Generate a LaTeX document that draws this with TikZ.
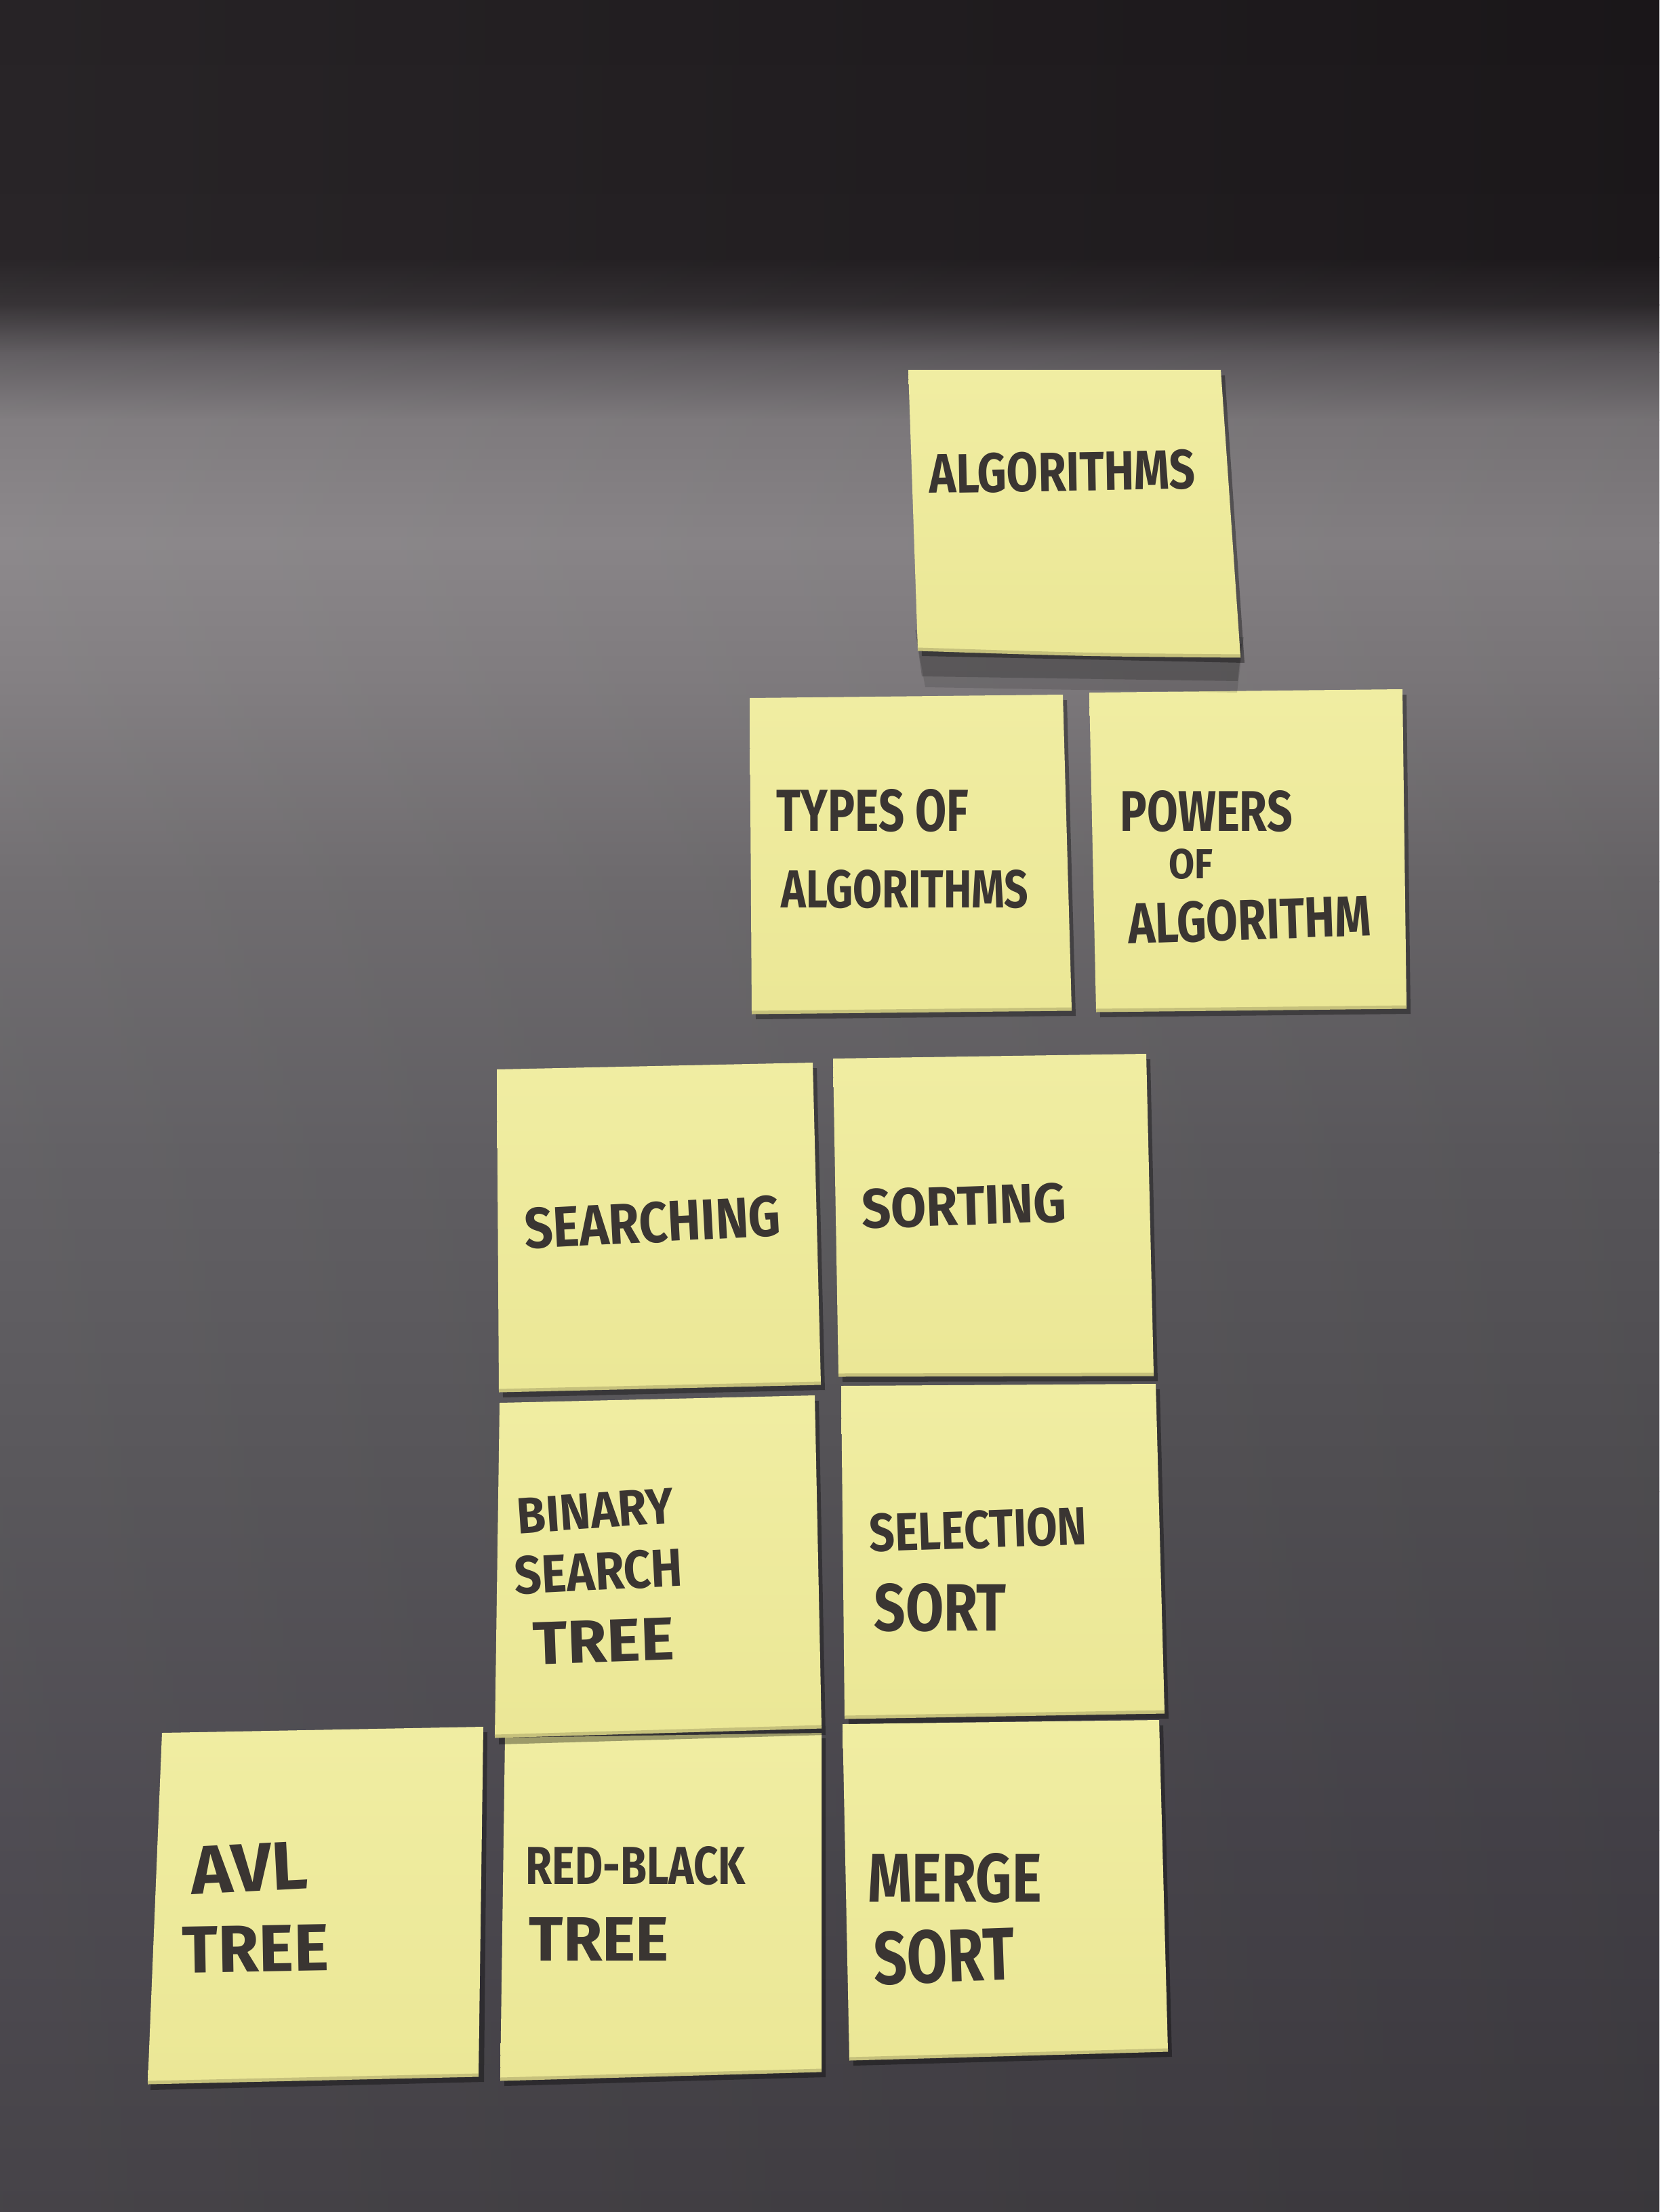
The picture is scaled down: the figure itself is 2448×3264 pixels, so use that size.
\documentclass[tikz,border=0pt]{standalone}
\usepackage{fontspec}
\setmainfont{Fira Sans}[FakeStretch=0.8]
\usepackage{graphicx}
\definecolor{bgA}{HTML}{1C181B}
\definecolor{bgB}{HTML}{1E1A1D}
\definecolor{bgC}{HTML}{2E2A2D}
\definecolor{bgD}{HTML}{5A565A}
\definecolor{bgE}{HTML}{7C787B}
\definecolor{bgF}{HTML}{878386}
\definecolor{bgG}{HTML}{7E7A7D}
\definecolor{bgH}{HTML}{6B686B}
\definecolor{bgI}{HTML}{5C5A5E}
\definecolor{bgJ}{HTML}{514F53}
\definecolor{bgK}{HTML}{46434A}
\definecolor{bgL}{HTML}{3D3A3F}
\definecolor{noteTop}{HTML}{F0EDA2}
\definecolor{noteBot}{HTML}{EBE796}
\definecolor{noteEdge}{HTML}{C6C17C}
\definecolor{ink}{HTML}{3A3532}
\newcommand{\mkhand}[3]{\resizebox{#1cm}{#2cm}{\bfseries #3}}
\tikzset{
  notefill/.style={top color=noteTop, bottom color=noteBot, draw=none},
  noteshadow/.style={fill=black, opacity=0.35},
  noteedge/.style={draw=noteEdge, line width=0.05cm},
  handtext/.style={anchor=south west, inner sep=0pt, text=ink}
}
\begin{document}
\begin{tikzpicture}[x=0.01cm, y=0.01cm]
\useasboundingbox (0,-3264) rectangle (2448,0);
% ---------- background wall ----------
\shade[top color=bgA, bottom color=bgB] (0,0) rectangle (2448,-381);
\shade[top color=bgB, bottom color=bgC] (0,-380) rectangle (2448,-451);
\shade[top color=bgC, bottom color=bgD] (0,-450) rectangle (2448,-521);
\shade[top color=bgD, bottom color=bgE] (0,-520) rectangle (2448,-621);
\shade[top color=bgE, bottom color=bgF] (0,-620) rectangle (2448,-801);
\shade[top color=bgF, bottom color=bgG] (0,-800) rectangle (2448,-1001);
\shade[top color=bgG, bottom color=bgH] (0,-1000) rectangle (2448,-1301);
\shade[top color=bgH, bottom color=bgI] (0,-1300) rectangle (2448,-1701);
\shade[top color=bgI, bottom color=bgJ] (0,-1700) rectangle (2448,-2201);
\shade[top color=bgJ, bottom color=bgK] (0,-2200) rectangle (2448,-2701);
\shade[top color=bgK, bottom color=bgL] (0,-2700) rectangle (2448,-3264);
\shade[left color=white, right color=black, opacity=0.05] (0,0) rectangle (2448,-3264);

% ---------- bottom row ----------
\fill[noteshadow] (245,-2565) -- (719,-2556) -- (714,-3072) -- (222,-3084) -- cycle;
\shade[notefill] (239,-2557) -- (713,-2548) -- (706,-3062) -- (218,-3073) -- cycle;
\draw[noteedge] (706,-3062) -- (218,-3073);

\fill[noteshadow] (751,-2572) -- (1218,-2565) -- (1218,-3065) -- (744,-3078) -- cycle;
\shade[notefill] (745,-2564) -- (1212,-2557) -- (1212,-3055) -- (738,-3068) -- cycle;
\draw[noteedge] (1212,-3055) -- (738,-3068);

\fill[noteshadow] (1249,-2552) -- (1716,-2546) -- (1729,-3035) -- (1259,-3048) -- cycle;
\shade[notefill] (1243,-2544) -- (1710,-2538) -- (1723,-3025) -- (1253,-3038) -- cycle;
\draw[noteedge] (1723,-3025) -- (1253,-3038);

% ---------- middle row ----------
\fill[noteshadow] (743,-2078) -- (1208,-2067) -- (1218,-2560) -- (736,-2574) -- cycle;
\shade[notefill] (737,-2070) -- (1202,-2059) -- (1212,-2548) -- (730,-2562) -- cycle;
\draw[noteedge] (1212,-2548) -- (730,-2562);

\fill[noteshadow] (1247,-2053) -- (1711,-2050) -- (1724,-2536) -- (1252,-2544) -- cycle;
\shade[notefill] (1241,-2045) -- (1705,-2042) -- (1718,-2526) -- (1246,-2534) -- cycle;
\draw[noteedge] (1718,-2526) -- (1246,-2534);

% ---------- upper row ----------
\fill[noteshadow] (739,-1586) -- (1205,-1576) -- (1217,-2051) -- (742,-2062) -- cycle;
\shade[notefill] (733,-1578) -- (1199,-1568) -- (1211,-2041) -- (736,-2052) -- cycle;
\draw[noteedge] (1211,-2041) -- (736,-2052);

\fill[noteshadow] (1235,-1570) -- (1697,-1563) -- (1708,-2038) -- (1243,-2039) -- cycle;
\shade[notefill] (1229,-1562) -- (1691,-1555) -- (1702,-2028) -- (1237,-2029) -- cycle;
\draw[noteedge] (1702,-2028) -- (1237,-2029);

% ---------- second row ----------
\fill[noteshadow] (1112,-1038) -- (1574,-1033) -- (1587,-1499) -- (1115,-1504) -- cycle;
\shade[notefill] (1106,-1030) -- (1568,-1025) -- (1581,-1489) -- (1109,-1494) -- cycle;
\draw[noteedge] (1581,-1489) -- (1109,-1494);

\fill[noteshadow] (1613,-1030) -- (2075,-1025) -- (2081,-1496) -- (1623,-1501) -- cycle;
\shade[notefill] (1607,-1022) -- (2069,-1017) -- (2075,-1486) -- (1617,-1491) -- cycle;
\draw[noteedge] (2075,-1486) -- (1617,-1491);

% ---------- top note ----------
\fill[black, opacity=0.12] (1350,-930) -- (1835,-940) -- (1825,-1022) -- (1365,-1014) -- cycle;
\fill[black, opacity=0.18] (1352,-940) -- (1832,-950) -- (1826,-1005) -- (1360,-998) -- cycle;
\fill[noteshadow] (1346,-554) -- (1807,-554) -- (1836,-978) -- (1360,-968) -- cycle;
\shade[notefill] (1340,-546) -- (1801,-546) -- (1830,-968) -- (1354,-958) -- cycle;
\draw[noteedge] (1830,-968) .. controls (1600,-966) .. (1354,-958);

% ---------- handwriting ----------
\node[handtext, rotate=1] (t1) at (1371,-730) {\mkhand{3.92}{0.58}{ALGORITHMS}};

\node[handtext] (t2a) at (1145,-1229) {\mkhand{2.83}{0.62}{TYPES OF}};
\node[handtext] (t2b) at (1152,-1342) {\mkhand{3.64}{0.56}{ALGORITHMS}};

\node[handtext] (t3a) at (1652,-1229) {\mkhand{2.54}{0.60}{POWERS}};
\node[handtext] (t3b) at (1724,-1298) {\mkhand{0.65}{0.44}{OF}};
\node[handtext, rotate=2] (t3c) at (1665,-1395) {\mkhand{3.58}{0.60}{ALGORITHM}};

\node[handtext, rotate=3] (t4) at (775,-1845) {\mkhand{3.78}{0.60}{SEARCHING}};
\node[handtext, rotate=2] (t5) at (1272,-1815) {\mkhand{3.02}{0.58}{SORTING}};

\node[handtext, rotate=4] (t6a) at (764,-2264) {\mkhand{2.31}{0.52}{BINARY}};
\node[handtext, rotate=3] (t6b) at (760,-2355) {\mkhand{2.48}{0.56}{SEARCH}};
\node[handtext, rotate=2] (t6c) at (787,-2457) {\mkhand{2.08}{0.62}{TREE}};

\node[handtext, rotate=2] (t7a) at (1283,-2292) {\mkhand{3.21}{0.56}{SELECTION}};
\node[handtext] (t7b) at (1289,-2409) {\mkhand{1.95}{0.70}{SORT}};

\node[handtext, rotate=3] (t8a) at (283,-2796) {\mkhand{1.72}{0.70}{AVL}};
\node[handtext, rotate=1] (t8b) at (269,-2912) {\mkhand{2.16}{0.68}{TREE}};

\node[handtext] (t9a) at (775,-2783) {\mkhand{3.24}{0.56}{RED-BLACK}};
\node[handtext] (t9b) at (780,-2894) {\mkhand{2.06}{0.64}{TREE}};

\node[handtext] (t10a) at (1280,-2809) {\mkhand{2.56}{0.72}{MERGE}};
\node[handtext, rotate=2] (t10b) at (1290,-2931) {\mkhand{2.07}{0.78}{SORT}};
\end{tikzpicture}
\end{document}
